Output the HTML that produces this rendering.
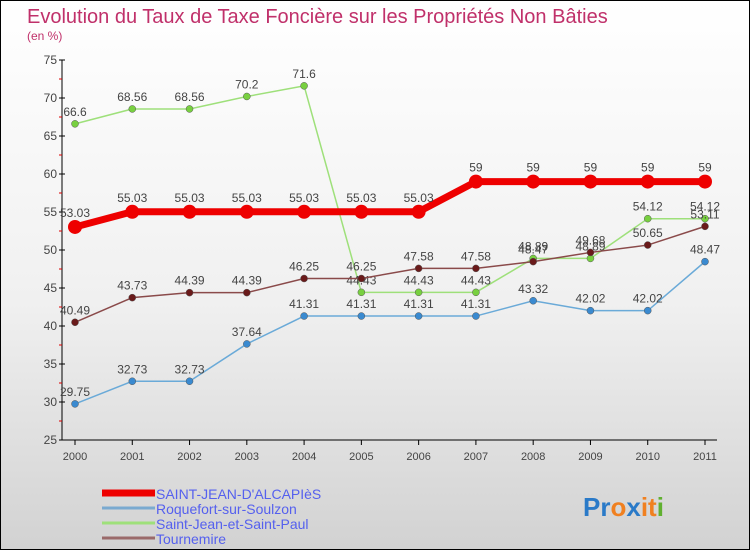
<!DOCTYPE html>
<html><head><meta charset="utf-8"><style>
body{margin:0}
#c{width:748px;height:548px;border:1px solid #000;background:linear-gradient(#fff 0%,#f0f0f0 55%,#d2d2d2 100%);position:relative;font-family:"Liberation Sans",sans-serif;overflow:hidden}
</style></head><body>
<div id="c">
<svg id="s" width="748" height="548" style="position:absolute;left:0;top:0">
<text x="26" y="22" font-size="20" fill="#c0306a">Evolution du Taux de Taxe Foncière sur les Propriétés Non Bâties</text>
<text x="26" y="39" font-size="12" fill="#c0306a">(en %)</text>
</svg>
</div>
<script>
const years=["2000","2001","2002","2003","2004","2005","2006","2007","2008","2009","2010","2011"];
const yTicks=[25,30,35,40,45,50,55,60,65,70,75];
const main=[53.03,55.03,55.03,55.03,55.03,55.03,55.03,59,59,59,59,59];
const roquefort=[29.75,32.73,32.73,37.64,41.31,41.31,41.31,41.31,43.32,42.02,42.02,48.47];
const saintJean=[66.6,68.56,68.56,70.2,71.6,44.43,44.43,44.43,48.89,48.89,54.12,54.12];
const tournemire=[40.49,43.73,44.39,44.39,46.25,46.25,47.58,47.58,48.47,49.68,50.65,53.11];
const names=["SAINT-JEAN-D'ALCAPIèS","Roquefort-sur-Soulzon","Saint-Jean-et-Saint-Paul","Tournemire"];
const NS="http://www.w3.org/2000/svg",s=document.getElementById('s');
const X=i=>74+i*(630/11), Y=v=>59+(75-v)*7.6;
function el(t,a,p){const e=document.createElementNS(NS,t);for(const k in a)e.setAttribute(k,a[k]);(p||s).appendChild(e);return e;}
// axes
let ax=el('line',{x1:61,y1:Y(75),x2:61,y2:Y(25),stroke:'#000'});


let bx=el('line',{x1:61,y1:Y(25),x2:X(11)+12,y2:Y(25),stroke:'#000'});


yTicks.forEach(v=>{
 el('line',{x1:58,x2:64,y1:Y(v),y2:Y(v),stroke:'#000'});
 if(v<75) el('line',{x1:58,x2:61,y1:Y(v+2.5),y2:Y(v+2.5),stroke:'#d00'});
 const t=el('text',{x:56,y:Y(v)+4,'font-size':12,'text-anchor':'end',fill:'#444'});t.textContent=v;
 
 
});
years.forEach((y,i)=>{
 el('line',{x1:X(i),x2:X(i),y1:Y(25),y2:Y(25)+5,stroke:'#000'});
 const t=el('text',{x:X(i),y:Y(25)+20,'font-size':11,'text-anchor':'middle',fill:'#444'});t.textContent=y;
 
 
});
function series(d,col,w,r,name,fill){
 const g=el('g',{});
 
 
 el('polyline',{points:d.map((v,i)=>X(i)+','+Y(v)).join(' '),fill:'none',stroke:col,'stroke-width':w},g);
 d.forEach((v,i)=>{
  const c=el('circle',{cx:X(i),cy:Y(v),r:r,fill:fill,stroke:w>3?'none':'#555','stroke-width':0.5},g);
  
  
  const t=el('text',{x:X(i),y:Y(v)-(w>3?10:8),'font-size':12,'text-anchor':'middle',fill:'#444'},g);
  t.textContent=v;
  
  
 });
}
series(roquefort,'#6aaad8',1.5,3.5,'roquefort-series','#3a8ad0');
series(saintJean,'#9ee07a',1.5,3.5,'saint-jean-series','#78d040');
series(tournemire,'#8a4a4a',1.5,3.5,'tournemire-series','#6a1a1a');
series(main,'#ee0000',7,7,'saint-jean-dalcapies-series','#ee0000');
// legend
const lc=['#ee0000','#7aaad0','#9ee07a','#9a6a6a'],lw=[7,3,3,3];
names.forEach((n,i)=>{
 const y=492+i*15;
 const l=el('line',{x1:101,x2:154,y1:y,y2:y,stroke:lc[i],'stroke-width':lw[i]});
 
 
 const t=el('text',{x:155,y:y+6,'font-size':14,fill:'#5560ee'});t.textContent=n;
 
 
});
const logo=el('text',{x:582,y:515,'font-size':26,'font-weight':'bold'});


[['Pr','#2a7ac8'],['o','#f08020'],['x','#2a7ac8'],['it','#f08020'],['i','#60b030']].forEach(p=>{const ts=el('tspan',{fill:p[1]},logo);ts.textContent=p[0];});
</script>
</body></html>
